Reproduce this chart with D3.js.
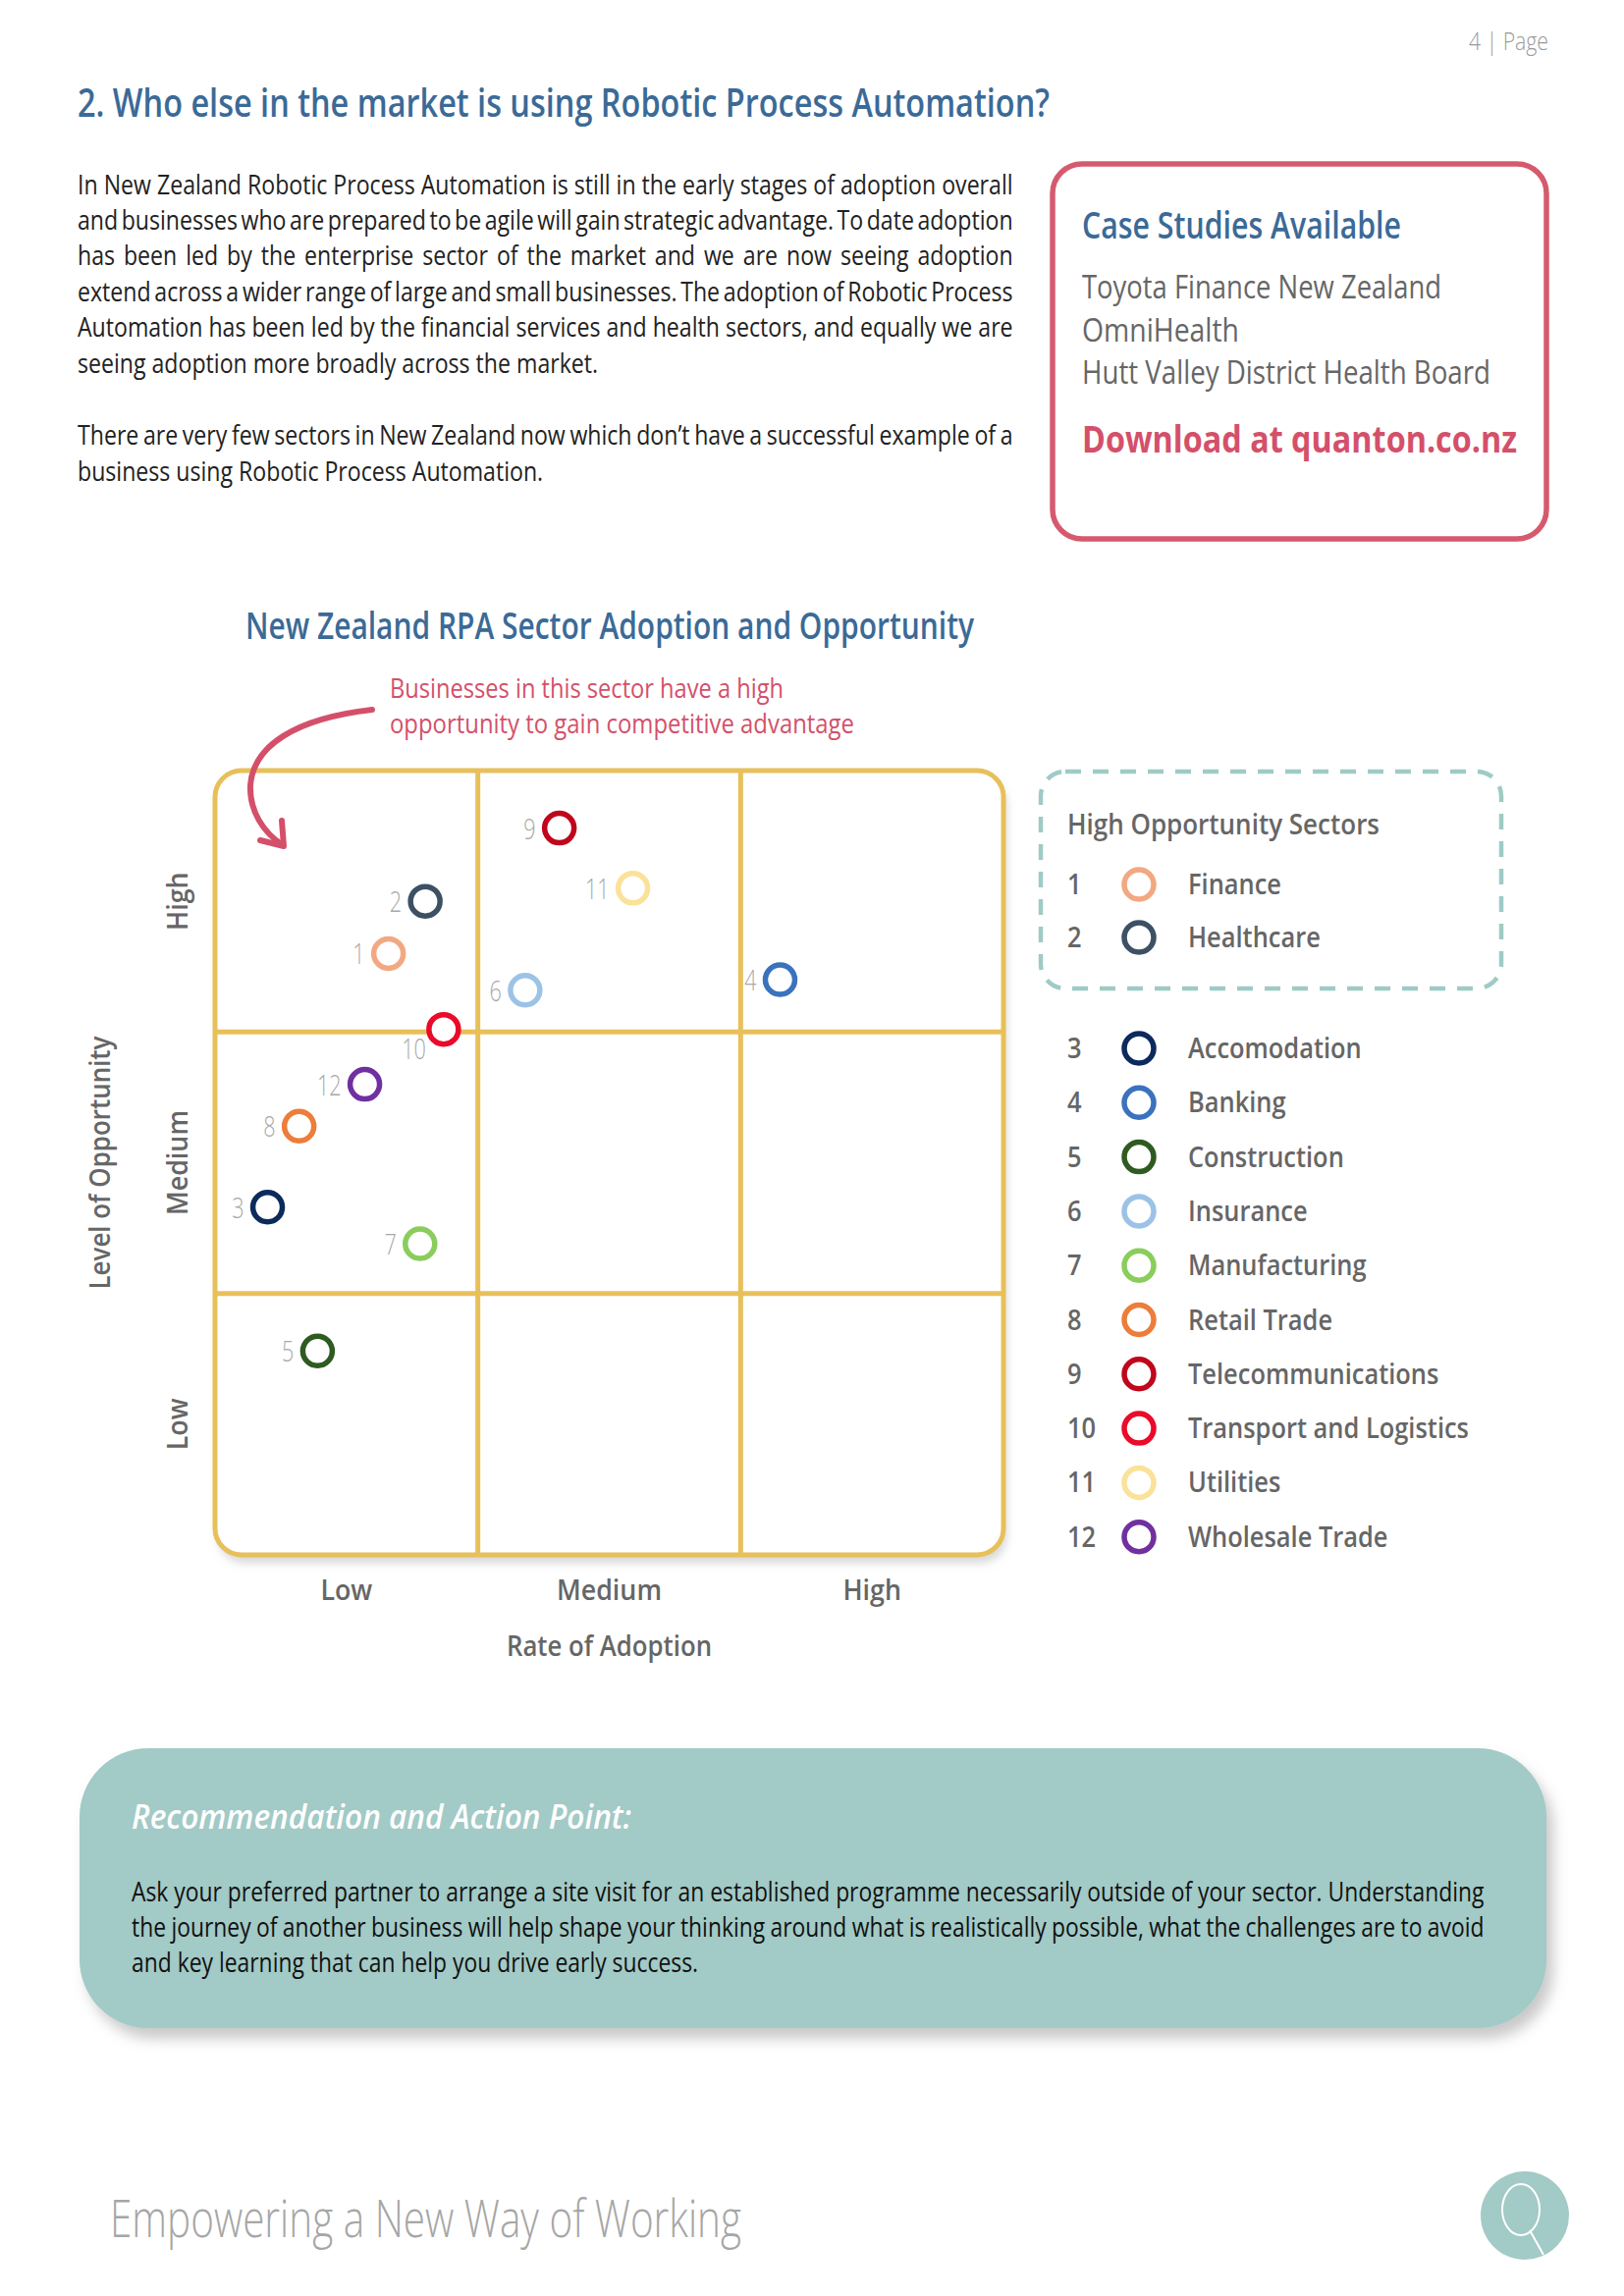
<!DOCTYPE html>
<html><head><meta charset="utf-8">
<script src="https://cdn.jsdelivr.net/npm/d3@7"></script>
<style>
html,body{margin:0;padding:0;background:#fff;}
svg{display:block;}
text{font-family:"Open Sans","Noto Sans",sans-serif;}
</style></head><body>
<svg id="page" width="1654" height="2339"></svg>
<script>
// ---------------- DATA ----------------
const sectorIds = [1,2,3,4,5,6,7,8,9,10,11,12];
const sectorNames = ["Finance","Healthcare","Accomodation","Banking","Construction","Insurance","Manufacturing","Retail Trade","Telecommunications","Transport and Logistics","Utilities","Wholesale Trade"];
// Rate of Adoption (0-3: Low | Medium | High), Level of Opportunity (0-3)
const adoptionRate     = [0.66,0.80,0.20,2.15,0.39,1.18,0.78,0.32,1.31,0.87,1.59,0.57];
const opportunityLevel = [2.30,2.50,1.33,2.20,0.78,2.16,1.19,1.64,2.78,2.01,2.55,1.80];
const sectorColors = ["#f2a882","#3d5064","#0d2a5c","#3a72be","#2f5a22","#9cc3e6","#8acd5c","#ec7d3a","#c0061c","#ea0a2a","#fbe29a","#7030a0"];
const levelLabels = ["Low","Medium","High"];
const highOpportunityIds = [1,2];
const introParagraphs = [
 ["In New Zealand Robotic Process Automation is still in the early stages of adoption overall",
  "and businesses who are prepared to be agile will gain strategic advantage. To date adoption",
  "has been led by the enterprise sector of the market and we are now seeing adoption",
  "extend across a wider range of large and small businesses. The adoption of Robotic Process",
  "Automation has been led by the financial services and health sectors, and equally we are",
  "seeing adoption more broadly across the market."],
 ["There are very few sectors in New Zealand now which don\u2019t have a successful example of a",
  "business using Robotic Process Automation."]
];
const caseStudies = ["Toyota Finance New Zealand","OmniHealth","Hutt Valley District Health Board"];
const recommendationLines = [
 "Ask your preferred partner to arrange a site visit for an established programme necessarily outside of your sector. Understanding",
 "the journey of another business will help shape your thinking around what is realistically possible, what the challenges are to avoid",
 "and key learning that can help you drive early success."
];

// ---------------- HELPERS ----------------
const svg = d3.select("#page");
svg.append("rect").attr("width",1654).attr("height",2339).attr("fill","#fff");
const defs = svg.append("defs");
function shadow(id, dx, dy, sd, op){
  const f = defs.append("filter").attr("id",id).attr("x","-10%").attr("y","-10%").attr("width","125%").attr("height","130%");
  f.append("feDropShadow").attr("dx",dx).attr("dy",dy).attr("stdDeviation",sd).attr("flood-color","#888").attr("flood-opacity",op);
}
shadow("shChart",3,8,5,0.35);
shadow("shRec",7,11,7,0.45);

function styleText(t, s){
  t.attr("font-size", s.size).attr("font-weight", s.weight||400).attr("fill", s.fill||"#000");
  if (s.italic) t.attr("font-style","italic");
  if (s.anchor) t.attr("text-anchor", s.anchor);
  return t;
}
function measure(str, s){
  const t = svg.append("text").text(str); styleText(t, s);
  const w = t.node().getComputedTextLength(); t.remove(); return w;
}
function addText(g, str, x, y, s){
  const t = g.append("text").attr("x",x).attr("y",y).text(str); styleText(t,s);
  if (s.width) t.attr("textLength", s.width).attr("lengthAdjust","spacingAndGlyphs");
  else if (s.factor) t.attr("textLength", t.node().getComputedTextLength()*s.factor).attr("lengthAdjust","spacingAndGlyphs");
  return t;
}
// one <text> per line: glyphs condensed by f, justified through word-spacing
function addLine(g, str, x, y, s, f, width){
  const natural = measure(str, s);
  const nSp = (str.match(/ /g) || []).length;
  const wrap = g.append("g").attr("transform", `translate(${x},${y}) scale(${f},1)`);
  const t = wrap.append("text").attr("x",0).attr("y",0).text(str); styleText(t, s);
  if (width && nSp > 0) {
    const ws = (width / f - natural) / nSp;
    t.style("word-spacing", ws + "px");
  }
  return t;
}

// ---------------- HEADER ----------------
addText(svg, "4 | Page", 1577, 51, {size:25, weight:300, fill:"#9a9a9a", anchor:"end", width:81});
addText(svg, "2. Who else in the market is using Robotic Process Automation?", 79, 119, {size:39, weight:600, fill:"#3b6a97", width:990});

// intro paragraphs
const bodyStyle = {size:27, weight:400, fill:"#222"};
const bodyF = 953 / measure(introParagraphs[0][0], bodyStyle);
const pg = svg.append("g");
const paraBaselines = [[198,234,270,307,343,380],[453,490]];
introParagraphs.forEach((lines,pi) => {
  lines.forEach((ln,li) => {
    const last = li === lines.length-1;
    addLine(pg, ln, 79, paraBaselines[pi][li], bodyStyle, bodyF, last ? null : 953);
  });
});

// case studies box
const cb = svg.append("g");
cb.append("rect").attr("x",1072).attr("y",167).attr("width",503).attr("height",382).attr("rx",30)
  .attr("fill","#fff").attr("stroke","#d65a6e").attr("stroke-width",5.5);
addText(cb, "Case Studies Available", 1102, 243, {size:37, weight:600, fill:"#3b6a97", width:325});
const csW = [366,160,416];
caseStudies.forEach((c,i) => addText(cb, c, 1102, 304 + i*43.5, {size:32, weight:400, fill:"#666", width:csW[i]}));
addText(cb, "Download at quanton.co.nz", 1102, 461, {size:38, weight:700, fill:"#d4506a", width:443});

// ---------------- CHART ----------------
addText(svg, "New Zealand RPA Sector Adoption and Opportunity", 250, 651, {size:37, weight:600, fill:"#3b6a97", width:742});
addText(svg, "Businesses in this sector have a high", 397, 711, {size:27, weight:500, fill:"#d4506a", width:401});
addText(svg, "opportunity to gain competitive advantage", 397, 747, {size:27, weight:500, fill:"#d4506a", width:473});

const x = d3.scaleLinear().domain([0,3]).range([219,1022]);
const y = d3.scaleLinear().domain([0,3]).range([1584,785]);
const color = d3.scaleOrdinal().domain(sectorIds).range(sectorColors);
const gridColor = "#e8c05a";

const cg = svg.append("g");
cg.append("rect").attr("x",x(0)).attr("y",y(3)).attr("width",x(3)-x(0)).attr("height",y(0)-y(3)).attr("rx",27)
  .attr("fill","#fff").attr("filter","url(#shChart)");
cg.selectAll("line.v").data([1,2]).join("line").attr("class","v")
  .attr("x1",d=>x(d)).attr("x2",d=>x(d)).attr("y1",y(3)).attr("y2",y(0))
  .attr("stroke",gridColor).attr("stroke-width",5);
cg.selectAll("line.h").data([1,2]).join("line").attr("class","h")
  .attr("y1",d=>y(d)).attr("y2",d=>y(d)).attr("x1",x(0)).attr("x2",x(3))
  .attr("stroke",gridColor).attr("stroke-width",5);
cg.append("rect").attr("x",x(0)).attr("y",y(3)).attr("width",x(3)-x(0)).attr("height",y(0)-y(3)).attr("rx",27)
  .attr("fill","none").attr("stroke",gridColor).attr("stroke-width",5);

// annotation arrow
const annColor = "#d4506a";
svg.append("path").attr("d","M379,723 C300,732 258,760 255,800 C254,826 268,848 288,861")
  .attr("fill","none").attr("stroke",annColor).attr("stroke-width",6).attr("stroke-linecap","round");
svg.append("path").attr("d","M287,836 L289,862 L265,856")
  .attr("fill","none").attr("stroke",annColor).attr("stroke-width",6).attr("stroke-linecap","round").attr("stroke-linejoin","round");

// axis labels
const axStyle = {size:29, weight:600, fill:"#666", anchor:"middle"};
const axisFactor = 107 / measure("Medium", axStyle);
levelLabels.forEach((lab,i) => {
  addText(svg, lab, (x(i)+x(i+1))/2, 1630, Object.assign({factor:axisFactor}, axStyle));
  const t = svg.append("text").attr("transform",`translate(191,${(y(i)+y(i+1))/2}) rotate(-90)`).text(lab);
  styleText(t, axStyle); t.attr("textLength", t.node().getComputedTextLength()*axisFactor).attr("lengthAdjust","spacingAndGlyphs");
});
addText(svg, "Rate of Adoption", (x(0)+x(3))/2, 1687, Object.assign({width:209}, axStyle));
{
  const t = svg.append("text").attr("transform",`translate(112,${(y(0)+y(3))/2}) rotate(-90)`).text("Level of Opportunity");
  styleText(t, axStyle); t.attr("textLength",258).attr("lengthAdjust","spacingAndGlyphs");
}

// points
const pts = sectorIds.map((id,i) => ({id, name:sectorNames[i], a:adoptionRate[i], o:opportunityLevel[i]}));
const labelBelow = new Set([10]);
const pg2 = svg.append("g");
pg2.selectAll("circle").data(pts).join("circle")
  .attr("cx",d=>x(d.a)).attr("cy",d=>y(d.o)).attr("r",15)
  .attr("fill","#fff").attr("stroke",d=>color(d.id)).attr("stroke-width",5.5);
const numStyle = {size:30, weight:300, fill:"#a8a8a8", anchor:"end"};
pts.forEach(d => {
  const below = labelBelow.has(d.id);
  addText(pg2, String(d.id), x(d.a) - (below ? 18 : 24), y(d.o) + (below ? 30 : 11), Object.assign({factor:0.72}, numStyle));
});

// legend
const lg = svg.append("g");
lg.append("rect").attr("x",1060).attr("y",786).attr("width",469).attr("height",221).attr("rx",25)
  .attr("fill","none").attr("stroke","#9ecbc5").attr("stroke-width",4.5).attr("stroke-dasharray","16 12");
const legStyle = {size:29, weight:600, fill:"#666"};
addText(lg, "High Opportunity Sectors", 1087, 850, Object.assign({width:318}, legStyle));
const legFactor = 286 / measure("Transport and Logistics", legStyle);
const rowY = id => highOpportunityIds.includes(id) ? 901 + (id-1)*54 : 1068 + (id-3)*55.3;
pts.forEach(d => {
  const cy = rowY(d.id);
  addText(lg, String(d.id), 1087, cy+10, Object.assign({factor:legFactor}, legStyle));
  lg.append("circle").attr("cx",1160).attr("cy",cy).attr("r",15).attr("fill","#fff")
    .attr("stroke",color(d.id)).attr("stroke-width",5.5);
  addText(lg, d.name, 1210, cy+10, Object.assign({factor:legFactor}, legStyle));
});

// ---------------- RECOMMENDATION ----------------
const rg = svg.append("g");
rg.append("rect").attr("x",81).attr("y",1781).attr("width",1494).attr("height",285).attr("rx",70)
  .attr("fill","#a2cac6").attr("filter","url(#shRec)");
addText(rg, "Recommendation and Action Point:", 134, 1863, {size:34, weight:600, italic:true, fill:"#fff", width:509});
const recStyle = {size:27, weight:400, fill:"#111"};
const recF = 1378 / measure(recommendationLines[0], recStyle);
recommendationLines.forEach((ln,i) => {
  addLine(rg, ln, 134, 1937 + i*36, recStyle, recF, i < recommendationLines.length-1 ? 1378 : null);
});

// ---------------- FOOTER ----------------
addText(svg, "Empowering a New Way of Working", 112, 2279, {size:54, weight:300, fill:"#a6a6a6", width:643});
const logo = svg.append("g");
logo.append("circle").attr("cx",1553).attr("cy",2257).attr("r",45).attr("fill","#a2cac6");
logo.append("ellipse").attr("cx",1549).attr("cy",2251).attr("rx",19).attr("ry",26).attr("fill","none").attr("stroke","#fff").attr("stroke-width",2);
logo.append("line").attr("x1",1558).attr("y1",2272).attr("x2",1572).attr("y2",2297).attr("stroke","#fff").attr("stroke-width",2);
</script>
</body></html>
